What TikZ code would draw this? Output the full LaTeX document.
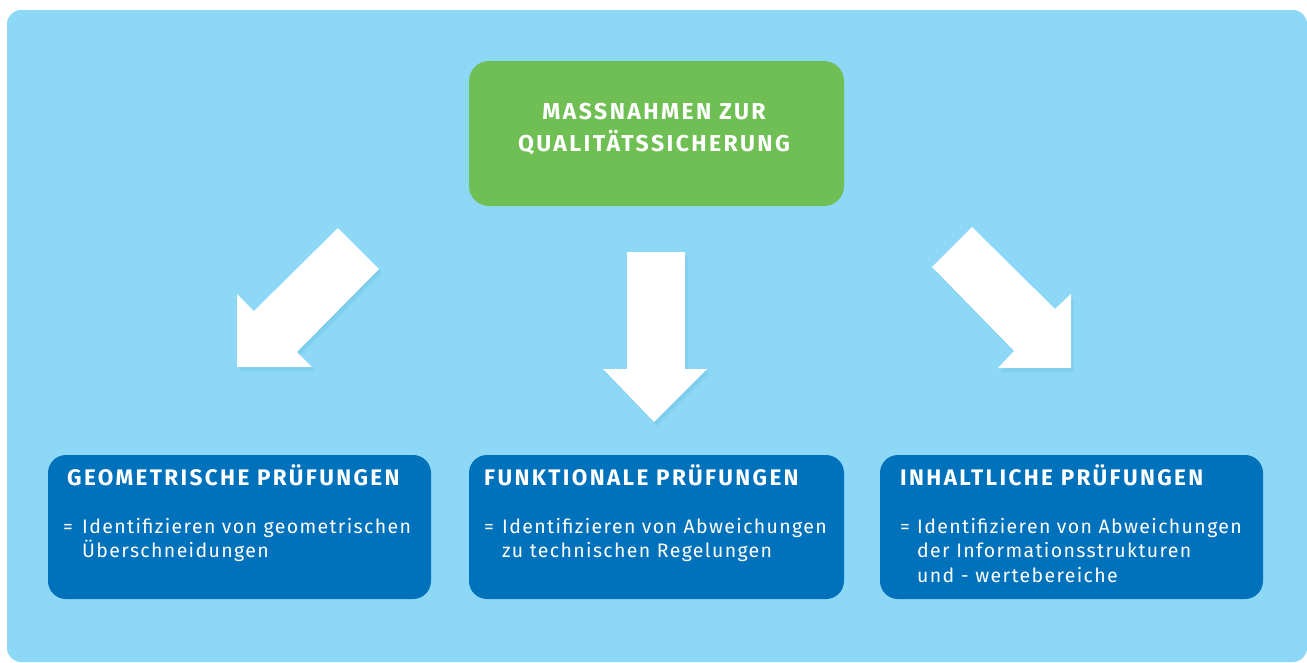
\documentclass[tikz,border=0pt]{standalone}
\usepackage{fontspec}
\setmainfont{Fira Sans}
\newfontfamily\headfont[LetterSpace=10.5]{Fira Sans}
\newfontfamily\bodyfont[LetterSpace=7]{Fira Sans}
\definecolor{bgblue}{HTML}{8DD8F6}
\definecolor{shadowblue}{HTML}{5FB8E0}
\definecolor{boxgreen}{HTML}{6FBF55}
\definecolor{boxblue}{HTML}{0071BB}
\tikzset{
  greenbox/.style={fill=boxgreen, rounded corners=20pt, inner sep=0pt, minimum width=375pt, minimum height=145pt},
  bluebox/.style={fill=boxblue, rounded corners=18pt, inner sep=0pt, minimum height=144pt},
  headtext/.style={text=white, inner sep=0pt, anchor=base west, font=\headfont\bfseries\fontsize{22.5}{26}\selectfont},
  toptext/.style={text=white, inner sep=0pt, anchor=base, font=\headfont\bfseries\fontsize{23}{27}\selectfont},
  bodytext/.style={text=white, inner sep=0pt, anchor=base west, font=\bodyfont\fontsize{19.5}{24}\selectfont},
  blockarrow/.style={fill=white},
  arrowshadow/.style={fill=shadowblue, opacity=0.12}
}
\begin{document}
\begin{tikzpicture}[x=1pt,y=-1pt]
\useasboundingbox (0,0) rectangle (1307,662);
\fill[bgblue, rounded corners=14pt] (7,10) rectangle (1307,662);

% top box
\node[greenbox] (top) at (656.5,133.5) {};
\node[toptext] (top1) at (654,119.3) {MASSNAHMEN ZUR};
\node[toptext] (top2) at (654,151) {QUALITÄTSSICHERUNG};

% block arrows (shadows)
\foreach \s in {1,2,3,4}{
  \fill[arrowshadow, shift={(\s*0.8,\s*1.2)}] (338,228) -- (379,269) -- (297,352) -- (312,367) -- (237,367) -- (237,294) -- (254,311) -- cycle;
  \fill[arrowshadow, shift={(\s*0.8,\s*1.2)}] (627,252) -- (685,252) -- (685,369) -- (707,369) -- (654,422) -- (603,369) -- (627,369) -- cycle;
  \fill[arrowshadow, shift={(\s*0.8,\s*1.2)}] (972,227) -- (1055,309) -- (1071,294) -- (1071,368) -- (998,368) -- (1014,351) -- (932,267) -- cycle;
}
% block arrows
\fill[blockarrow] (338,228) -- (379,269) -- (297,352) -- (312,367) -- (237,367) -- (237,294) -- (254,311) -- cycle;
\fill[blockarrow] (627,252) -- (685,252) -- (685,369) -- (707,369) -- (654,422) -- (603,369) -- (627,369) -- cycle;
\fill[blockarrow] (972,227) -- (1055,309) -- (1071,294) -- (1071,368) -- (998,368) -- (1014,351) -- (932,267) -- cycle;

% bottom boxes
\node[bluebox, minimum width=383pt] (geo) at (239.5,527) {};
\node[bluebox, minimum width=375pt] (fun) at (656.5,527) {};
\node[bluebox, minimum width=383pt] (inh) at (1071.5,527) {};

\node[headtext] (geoh) at (67,485.7) {GEOMETRISCHE PRÜFUNGEN};
\node[bodytext] (geoeq) at (63,533) {=};
\node[bodytext] (geo1) at (82,533) {Identifizieren von geometrischen};
\node[bodytext] (geo2) at (82,557.5) {Überschneidungen};

\node[headtext] (funh) at (484,485.7) {FUNKTIONALE PRÜFUNGEN};
\node[bodytext] (funeq) at (484,533) {=};
\node[bodytext] (fun1) at (502,533) {Identifizieren von Abweichungen};
\node[bodytext] (fun2) at (502,557.5) {zu technischen Regelungen};

\node[headtext] (inhh) at (900,485.7) {INHALTLICHE PRÜFUNGEN};
\node[bodytext] (inheq) at (900,533) {=};
\node[bodytext] (inh1) at (917,533) {Identifizieren von Abweichungen};
\node[bodytext] (inh2) at (917,557.5) {der Informationsstrukturen};
\node[bodytext] (inh3) at (917,582) {und - wertebereiche};
\end{tikzpicture}
\end{document}
